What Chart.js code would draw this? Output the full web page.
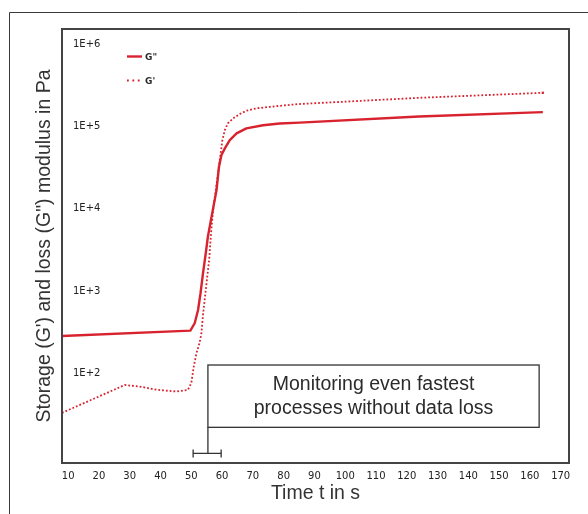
<!DOCTYPE html>
<html>
<head>
<meta charset="utf-8">
<script src="https://cdn.jsdelivr.net/npm/chart.js@4.4.1/dist/chart.umd.min.js"></script>
<style>
  html, body { margin: 0; padding: 0; background: #fff; }
  #wrap { position: relative; width: 588px; height: 514px; }
</style>
</head>
<body>
<div id="wrap"><canvas id="chart"></canvas></div>
<script>
// G" (loss modulus) - solid line
const TIME_LOSS = [8, 49.7, 51.1, 52.2, 53.0, 53.8, 54.7, 55.4, 57.1, 58.2, 59.0, 59.8, 60.9, 62.5, 64.7, 67.9, 73.3, 78.7, 85.2, 124, 164.2];
const LOSS_G2   = [284, 330, 406, 589, 940, 1640, 2880, 4610, 10200, 16900, 32600, 45100, 54400, 68600, 82700, 95300, 104000, 109000, 112000, 133000, 150000];

// G' (storage modulus) - dotted line
const TIME_STORAGE = [8, 28.4, 33.2, 38.7, 45.2, 48.9, 50.0, 50.8, 51.7, 52.7, 53.3, 53.8, 54.7, 55.8, 56.5, 57.1, 59.6, 60.1, 60.9, 61.9, 63.6, 65.7, 67.9, 71.2, 75.5, 78.7, 84.7, 124, 164.2];
const STORAGE_G1   = [33, 72, 69, 63, 60, 62.7, 76, 120, 177, 234, 309, 512, 1030, 2390, 5520, 9660, 49400, 68500, 90800, 110000, 126000, 142000, 156000, 167000, 174000, 179000, 188000, 224000, 258000];

const X_TICKS = [10, 20, 30, 40, 50, 60, 70, 80, 90, 100, 110, 120, 130, 140, 150, 160, 170];
const Y_TICKS = [1e2, 1e3, 1e4, 1e5, 1e6];

const LEGEND_LABELS = ['G"', "G'"];
const NOTE_LINES = ['Monitoring even fastest', 'processes without data loss'];

// note box + bracket, in data units (t, Pa)
const NOTE_BOX = { t0: 55.4, t1: 163, top: 126, bottom: 22 };
const BRACKET = { t0: 50.6, t1: 59.7, y: 10.6 };

const RED = '#d8232f';
const INK = '#2b2b2b';

const toPts = (xs, ys) => xs.map((x, i) => ({ x, y: ys[i] }));

const decor = {
  id: 'decor',
  beforeDraw(chart) {
    const { ctx } = chart;
    ctx.save();
    // outer frame (only top + left are inside the picture)
    ctx.strokeStyle = '#3a3a3a';
    ctx.lineWidth = 1;
    ctx.beginPath();
    ctx.moveTo(588, 12.5);
    ctx.lineTo(9.5, 12.5);
    ctx.lineTo(9.5, 514);
    ctx.stroke();
    ctx.restore();
  },
  afterDatasetsDraw(chart) {
    const { ctx, chartArea: a, scales: { x, y } } = chart;
    ctx.save();

    // plot border
    ctx.strokeStyle = '#444';
    ctx.lineWidth = 2;
    ctx.strokeRect(a.left, a.top, a.right - a.left, a.bottom - a.top);

    // legend
    const lx = a.left + 65, ly = a.top + 27.5;
    ctx.strokeStyle = RED;
    ctx.lineWidth = 2.4;
    ctx.beginPath(); ctx.moveTo(lx, ly); ctx.lineTo(lx + 15, ly); ctx.stroke();
    ctx.lineWidth = 1.8;
    ctx.setLineDash([1.8, 3.6]);
    ctx.beginPath(); ctx.moveTo(lx, ly + 24); ctx.lineTo(lx + 16, ly + 24); ctx.stroke();
    ctx.setLineDash([]);
    ctx.fillStyle = INK;
    ctx.font = 'bold 9px "DejaVu Sans"';
    ctx.textBaseline = 'middle';
    ctx.fillText(LEGEND_LABELS[0], lx + 18, ly + 1.5);
    ctx.fillText(LEGEND_LABELS[1], lx + 18, ly + 25);

    // note box
    const bx0 = x.getPixelForValue(NOTE_BOX.t0), bx1 = x.getPixelForValue(NOTE_BOX.t1);
    const by0 = y.getPixelForValue(NOTE_BOX.top), by1 = y.getPixelForValue(NOTE_BOX.bottom);
    ctx.strokeStyle = '#333';
    ctx.lineWidth = 1.3;
    ctx.strokeRect(bx0, by0, bx1 - bx0, by1 - by0);
    ctx.fillStyle = INK;
    ctx.font = '19.5px "Liberation Sans", Arial, sans-serif';
    ctx.textAlign = 'center';
    const cx = (bx0 + bx1) / 2, cy = (by0 + by1) / 2;
    ctx.fillText(NOTE_LINES[0], cx, cy - 11.5);
    ctx.fillText(NOTE_LINES[1], cx, cy + 12);

    // bracket for the 50..60 s window
    const k0 = x.getPixelForValue(BRACKET.t0), k1 = x.getPixelForValue(BRACKET.t1);
    const ky = y.getPixelForValue(BRACKET.y);
    ctx.beginPath();
    ctx.moveTo(bx0, by1); ctx.lineTo(bx0, ky);
    ctx.moveTo(k0, ky); ctx.lineTo(k1, ky);
    ctx.moveTo(k0, ky - 4); ctx.lineTo(k0, ky + 4);
    ctx.moveTo(k1, ky - 4); ctx.lineTo(k1, ky + 4);
    ctx.stroke();

    ctx.restore();
  }
};

new Chart(document.getElementById('chart'), {
  type: 'line',
  data: {
    datasets: [
      {
        label: LEGEND_LABELS[0],
        data: toPts(TIME_LOSS, LOSS_G2),
        borderColor: RED,
        borderWidth: 2.4,
        borderJoinStyle: 'round',
        pointRadius: 0,
        tension: 0,
        fill: false
      },
      {
        label: LEGEND_LABELS[1],
        data: toPts(TIME_STORAGE, STORAGE_G1),
        borderColor: RED,
        backgroundColor: RED,
        borderWidth: 1.8,
        borderDash: [1.8, 2.0],
        pointStyle: 'rect',
        pointRadius: ctx => ctx.dataIndex === TIME_STORAGE.length - 1 ? 1.6 : 0,
        pointBorderWidth: 0,
        tension: 0,
        fill: false
      }
    ]
  },
  options: {
    responsive: true,
    maintainAspectRatio: false,
    animation: false,
    devicePixelRatio: 1,
    layout: { padding: { top: 29, right: 19, left: 0, bottom: 0 } },
    plugins: { legend: { display: false }, tooltip: { enabled: false } },
    scales: {
      x: {
        type: 'linear',
        min: 8,
        max: 172.7,
        grid: { display: false, drawTicks: false },
        border: { display: false },
        afterBuildTicks: s => { s.ticks = X_TICKS.map(v => ({ value: v })); },
        afterFit: s => { s.height = 51; },
        ticks: {
          autoSkip: false, maxRotation: 0, padding: 7,
          color: '#222',
          font: { family: 'DejaVu Sans', size: 10 }
        },
        title: {
          display: true,
          text: 'Time t in s',
          color: '#333',
          font: { family: 'Liberation Sans', size: 19.5 },
          padding: { top: 0, bottom: 9 }
        }
      },
      y: {
        type: 'logarithmic',
        min: 8.1,
        max: 1.54e6,
        grid: { display: false, drawTicks: false },
        border: { display: false },
        afterBuildTicks: s => { s.ticks = Y_TICKS.map(v => ({ value: v })); },
        afterFit: s => { s.width = 62; },
        ticks: {
          mirror: true, padding: 11,
          color: '#222',
          font: { family: 'DejaVu Sans', size: 10 },
          callback: v => '1E+' + Math.round(Math.log10(v))
        },
        title: {
          display: true,
          text: 'Storage (G\') and loss (G") modulus in Pa',
          color: '#333',
          font: { family: 'Liberation Sans', size: 19.5 },
          padding: { top: 32.5, bottom: 0 }
        }
      }
    }
  },
  plugins: [decor]
});
</script>
</body>
</html>
